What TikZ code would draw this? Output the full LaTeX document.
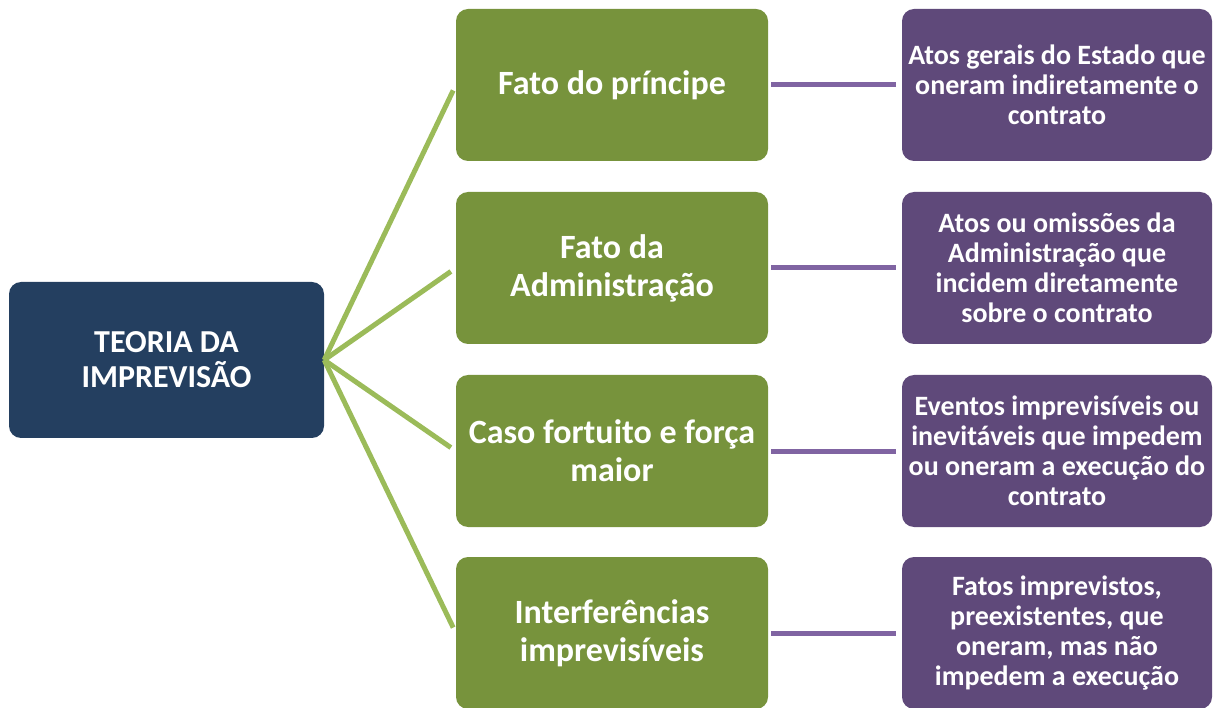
\documentclass[tikz,border=0pt]{standalone}
\usepackage{fontspec}
\setmainfont{Carlito}
\definecolor{navy}{HTML}{243F60}
\definecolor{olive}{HTML}{77933C}
\definecolor{oliveline}{HTML}{9BBB59}
\definecolor{plum}{HTML}{5F497A}
\definecolor{plumline}{HTML}{8064A2}
\tikzset{
  base/.style={rounded corners=12pt, text=white, align=flush center, inner sep=0pt},
  rootbox/.style={base, fill=navy, minimum width=315pt, minimum height=156pt, text width=310pt, font=\fontsize{32}{35}\selectfont\bfseries},
  midbox/.style={base, fill=olive, minimum width=312pt, minimum height=152pt, text width=310pt, font=\fontsize{34}{38}\selectfont\bfseries},
  leafbox/.style={base, fill=plum, minimum width=310pt, minimum height=152pt, text width=310pt, font=\fontsize{28}{30}\selectfont\bfseries},
  gline/.style={draw=oliveline, line width=5pt},
  pline/.style={draw=plumline, line width=5pt},
}
\begin{document}
\begin{tikzpicture}[x=1pt,y=-1pt]
\useasboundingbox (0,0) rectangle (1213,708);
\node[rootbox] (root) at (166.5,360) {TEORIA DA\\IMPREVISÃO};
\node[midbox] (m1) at (612,85) {Fato do príncipe};
\node[midbox] (m2) at (612,268) {Fato da\\Administração};
\node[midbox] (m3) at (612,451) {Caso fortuito e força\\maior};
\node[midbox] (m4) at (612,633) {Interferências\\imprevisíveis};
\node[leafbox] (l1) at (1057,85) {Atos gerais do Estado que\\oneram indiretamente o\\contrato};
\node[leafbox] (l2) at (1057,268) {Atos ou omissões da\\Administração que\\incidem diretamente\\sobre o contrato};
\node[leafbox] (l3) at (1057,451) {Eventos imprevisíveis ou\\inevitáveis que impedem\\ou oneram a execução do\\contrato};
\node[leafbox] (l4) at (1057,633) {Fatos imprevistos,\\preexistentes, que\\oneram, mas não\\impedem a execução};
\foreach \i in {1,2,3,4} {
  \draw[gline, shorten >=6pt] (root.east) -- (m\i.west);
  \draw[pline, shorten <=3pt, shorten >=6pt] (m\i.east) -- (l\i.west);
}
\end{tikzpicture}
\end{document}
